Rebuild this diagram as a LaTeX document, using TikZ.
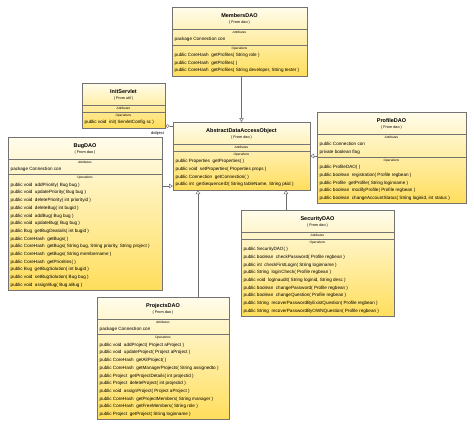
\documentclass[tikz,border=0pt]{standalone}
\usepackage{fontspec}
\setmainfont{Liberation Sans}
\usetikzlibrary{arrows.meta}
\definecolor{boxline}{RGB}{115,115,115}
\definecolor{rosecream}{RGB}{255,252,235}
\definecolor{roseyellow}{RGB}{255,222,92}
\definecolor{linkgray}{RGB}{110,110,110}

\begin{document}
\begin{tikzpicture}[x=1pt, y=-1pt,
  classbox/.style={draw=boxline, line width=0.7pt, top color=rosecream, bottom color=roseyellow,
    inner sep=0pt, outer sep=0pt, anchor=north west},
  divider/.style={draw=boxline, line width=0.6pt},
  classname/.style={font=\fontsize{5.5}{6}\selectfont\bfseries, inner sep=0pt},
  fromtext/.style={font=\fontsize{3.8}{4}\selectfont, inner sep=0pt},
  section/.style={font=\fontsize{3.2}{3.5}\selectfont\itshape, inner sep=0pt},
  rows/.style={font=\fontsize{4.6}{7.7}\selectfont, align=left, anchor=north west, inner sep=0pt},
  gen/.style={draw=linkgray, line width=0.5pt, -{Triangle[open, length=4pt, width=4.5pt]}},
  assoc/.style={draw=linkgray, line width=0.5pt, {Diamond[open, length=5pt, width=3.5pt]}-},
  role/.style={font=\fontsize{4}{4.5}\selectfont, inner sep=0pt}]

  \useasboundingbox (0,0) rectangle (474,426);

  % MembersDAO
  \node[classbox, minimum width=135pt, minimum height=69pt] (members) at (172,7) {};
  \node[classname] at (239.5,16) {MembersDAO};
  \node[fromtext] at (239.5,23) {( From dao )};
  \draw[divider] (172,29) -- (307,29);
  \node[section] at (239.5,32.5) {Attributes};
  \node[rows] at (174.5,37.2) {package Connection con};
  \draw[divider] (172,45) -- (307,45);
  \node[section] at (239.5,48.5) {Operations};
  \node[rows, font=\fontsize{4.6}{7.5}\selectfont] at (174.5,53.2) {public CoreHash\ \ getProfiles( String role )\\
    public CoreHash\ \ getProfiles( )\\
    public CoreHash\ \ getProfiles( String developer, String tester )};

  % InitServlet
  \node[classbox, minimum width=83pt, minimum height=45pt] (init) at (82,83) {};
  \node[classname] at (123.5,92) {InitServlet};
  \node[fromtext] at (123.5,99) {( From util )};
  \draw[divider] (82,105) -- (165,105);
  \node[section] at (123.5,108.5) {Attributes};
  \draw[divider] (82,112) -- (165,112);
  \node[section] at (123.5,115.5) {Operations};
  \node[rows] at (84.5,120.2) {public void\ \ init( ServletConfig sc )};

  % AbstractDataAccessObject
  \node[classbox, minimum width=137pt, minimum height=68pt] (abstract) at (173,122) {};
  \node[classname] at (241.5,131) {AbstractDataAccessObject};
  \node[fromtext] at (241.5,138) {( From dao )};
  \draw[divider] (173,144) -- (310,144);
  \node[section] at (241.5,147.5) {Attributes};
  \draw[divider] (173,151) -- (310,151);
  \node[section] at (241.5,154.5) {Operations};
  \node[rows] at (175.5,159.2) {public Properties\ \ getProperties( )\\
    public void\ \ setProperties( Properties props )\\
    public Connection\ \ getConnection( )\\
    public int\ \ getSequenceID( String tableName, String pkid )};

  % BugDAO
  \node[classbox, minimum width=154pt, minimum height=153pt] (bug) at (8,137) {};
  \node[classname] at (85,146) {BugDAO};
  \node[fromtext] at (85,153) {( From dao )};
  \draw[divider] (8,159) -- (162,159);
  \node[section] at (85,162.5) {Attributes};
  \node[rows] at (10.5,167.2) {package Connection con};
  \draw[divider] (8,174.5) -- (162,174.5);
  \node[section] at (85,178) {Operations};
  \node[rows] at (10.5,182.7) {public void\ \ addPriority( Bug bug )\\
    public void\ \ updatePriority( Bug bug )\\
    public void\ \ deletePriority( int priorityid )\\
    public void\ \ deleteBug( int bugid )\\
    public void\ \ addBug( Bug bug )\\
    public void\ \ updateBug( Bug bug )\\
    public Bug\ \ getBugDeatails( int bugid )\\
    public CoreHash\ \ getBugs( )\\
    public CoreHash\ \ getBugs( String bug, String priority, String project )\\
    public CoreHash\ \ getBugs( String membername )\\
    public CoreHash\ \ getPriorities( )\\
    public Bug\ \ getBugSolution( int bugid )\\
    public void\ \ setBugSolution( Bug bug )\\
    public void\ \ assignBug( Bug aBug )};

  % ProfileDAO
  \node[classbox, minimum width=149pt, minimum height=91.5pt] (profile) at (317,112) {};
  \node[classname] at (391.5,121) {ProfileDAO};
  \node[fromtext] at (391.5,128) {( From dao )};
  \draw[divider] (317,134) -- (466,134);
  \node[section] at (391.5,137.5) {Attributes};
  \node[rows] at (319.5,142.2) {public Connection con\\
    private boolean flag};
  \draw[divider] (317,157) -- (466,157);
  \node[section] at (391.5,160.5) {Operations};
  \node[rows] at (319.5,165.2) {public ProfileDAO( )\\
    public boolean\ \ registration( Profile regbean )\\
    public Profile\ \ getProfile( String loginname )\\
    public boolean\ \ modifyProfile( Profile regbean )\\
    public boolean\ \ changeAccountStatus( String loginid, int status )};

  % SecurityDAO
  \node[classbox, minimum width=153pt, minimum height=106pt] (security) at (241,210) {};
  \node[classname] at (317.5,219) {SecurityDAO};
  \node[fromtext] at (317.5,226) {( From dao )};
  \draw[divider] (241,232) -- (394,232);
  \node[section] at (317.5,235.5) {Attributes};
  \draw[divider] (241,239) -- (394,239);
  \node[section] at (317.5,242.5) {Operations};
  \node[rows] at (243.5,247.2) {public SecurityDAO( )\\
    public boolean\ \ checkPassword( Profile regbean )\\
    public int\ \ checkFirstLogin( String loginname )\\
    public String\ \ loginCheck( Profile regbean )\\
    public void\ \ logInaudit( String loginid, String desc )\\
    public boolean\ \ changePassword( Profile regbean )\\
    public boolean\ \ changeQuestion( Profile regbean )\\
    public String\ \ recoverPasswordByExistQuestion( Profile regbean )\\
    public String\ \ recoverPasswordByOWNQuestion( Profile regbean )};

  % ProjectsDAO
  \node[classbox, minimum width=132pt, minimum height=122.5pt] (projects) at (97,297) {};
  \node[classname] at (163,306) {ProjectsDAO};
  \node[fromtext] at (163,313) {( From dao )};
  \draw[divider] (97,319) -- (229,319);
  \node[section] at (163,322.5) {Attributes};
  \node[rows] at (99.5,327.2) {package Connection con};
  \draw[divider] (97,334.5) -- (229,334.5);
  \node[section] at (163,338) {Operations};
  \node[rows] at (99.5,342.7) {public void\ \ addProject( Project aProject )\\
    public void\ \ updateProject( Project aProject )\\
    public CoreHash\ \ getAllProject( )\\
    public CoreHash\ \ getManagerProjects( String assignedto )\\
    public Project\ \ getProjectDetails( int projectid )\\
    public Project\ \ deleteProject( int projectid )\\
    public void\ \ assignProject( Project aProject )\\
    public CoreHash\ \ getProjectMembers( String manager )\\
    public CoreHash\ \ getFreeMembers( String role )\\
    public Project\ \ getProject( String loginname )};

  % links to AbstractDataAccessObject
  \coordinate (dlink) at ([yshift=2pt]init.south east);
  \coordinate (buglink) at ([yshift=4pt]abstract.south west);
  \coordinate (seclink) at ([xshift=-24pt]abstract.south east);
  \coordinate (projlink) at ([xshift=25pt]abstract.south west);
  \draw[gen] (abstract.north |- members.south) -- (abstract.north);
  \draw[assoc] (dlink) -- (dlink -| abstract.west);
  \node[role] (dobject) at (157.5,133.5) {dobject};
  \draw[gen] (buglink -| bug.east) -- (buglink);
  \draw[gen] (abstract.east -| profile.west) -- (abstract.east);
  \draw[gen] (seclink |- security.north) -- (seclink);
  \draw[gen] (projlink |- projects.north) -- (projlink);
\end{tikzpicture}
\end{document}
